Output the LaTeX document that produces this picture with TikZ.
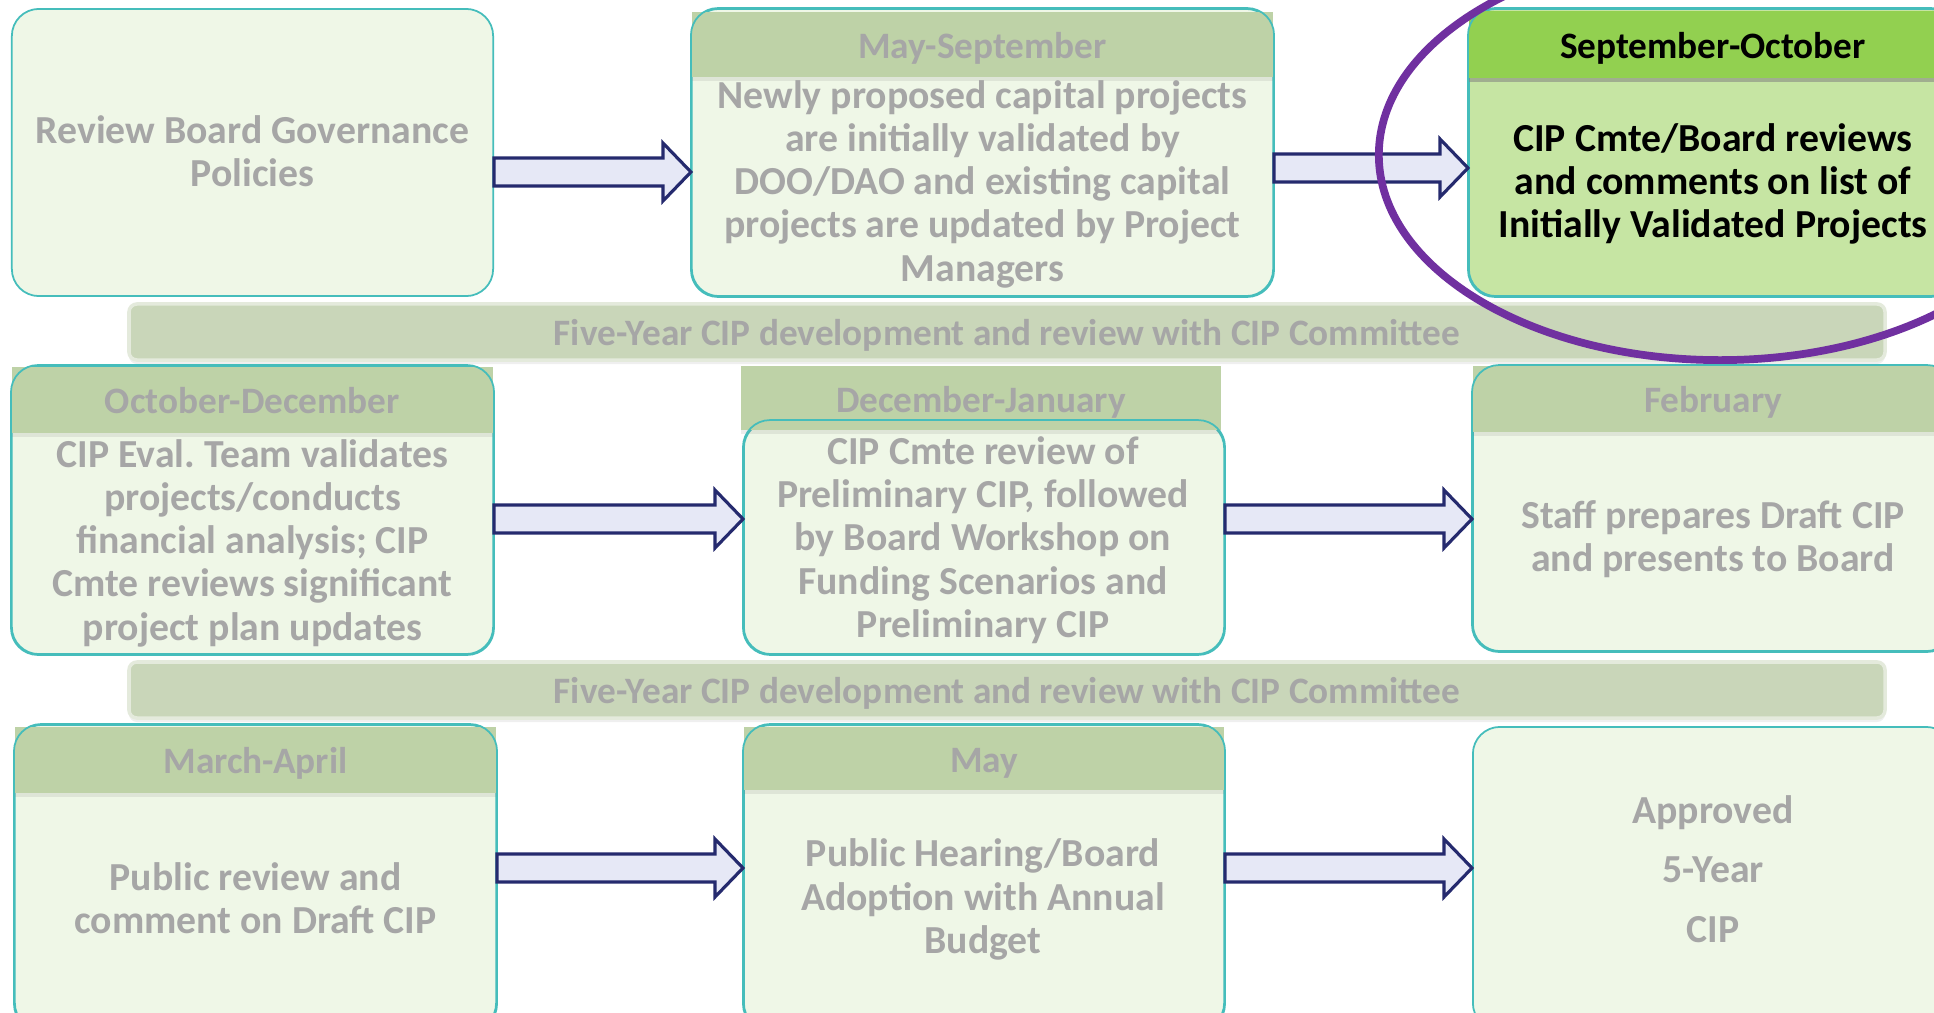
\documentclass[tikz,border=0pt]{standalone}
\usepackage{fontspec}
\setmainfont{Carlito}
\usepackage{tikz}
\usetikzlibrary{positioning,shapes.geometric,shadows,calc}
\frenchspacing
\definecolor{rim}{HTML}{45BDBB}
\definecolor{pale}{HTML}{EFF7E7}
\definecolor{sage}{HTML}{BED2A7}
\definecolor{lime}{HTML}{92D050}
\definecolor{limepale}{HTML}{C6E5A3}
\definecolor{fog}{HTML}{A6A6A6}
\definecolor{navy}{HTML}{252A6E}
\definecolor{lav}{HTML}{E6E8F6}
\definecolor{plum}{HTML}{7030A0}
\definecolor{bandc}{HTML}{C9D6B9}
\tikzset{
    stage/.style={
           rectangle,
           rounded corners=0.27cm,
           draw=rim, line width=0.5pt,
           fill=pale,
           inner sep=0pt,
           },
}
\tikzset{
    head/.style={
           rectangle,
           fill=sage,
           inner sep=0pt,
           text=fog,
           text height=10.4pt, text depth=2.5pt,
           font=\bfseries\fontsize{10.6}{12}\selectfont,
           drop shadow={shadow xshift=0pt, shadow yshift=-0.04cm, opacity=0.15},
           },
}
\tikzset{
    band/.style={
           rectangle,
           rounded corners=0.08cm,
           fill=bandc, draw=bandc!50!white, line width=1pt,
           inner sep=0pt,
           text=fog,
           text height=10.4pt, text depth=2.5pt,
           font=\bfseries\fontsize{10.6}{12}\selectfont,
           drop shadow={shadow xshift=0pt, shadow yshift=-0.04cm, opacity=0.12},
           },
}
\tikzset{
    txt/.style={
           inner sep=0pt,
           align=center,
           text=fog,
           font=\bfseries\fontsize{11.3}{12.3}\selectfont,
           },
}
\tikzset{
    flow/.style={
           draw=navy, fill=lav, line width=0.9pt,
           to path={($(\tikztostart)+(0,-14)$) -- ($(\tikztotarget)+(-28,-14)$) -- ($(\tikztotarget)+(-28,-29)$) -- (\tikztotarget) -- ($(\tikztotarget)+(-28,29)$) -- ($(\tikztotarget)+(-28,14)$) -- ($(\tikztostart)+(0,14)$) -- cycle},
           },
}
\tikzset{
    focus/.style={
           ellipse,
           draw=plum, line width=2.2pt,
           inner sep=0pt,
           },
}
\begin{document}
\begin{tikzpicture}[x=0.01cm,y=-0.01cm]
\useasboundingbox (0,0) rectangle (1934,1012);
\clip (0,0) rectangle (1934,1012);
\fill[white] (0,0) rectangle (1934,1012);
\node[band,minimum width=17.55cm,minimum height=0.56cm](B1) at (1007,332){Five-Year CIP development and review with CIP Committee};
\node[band,minimum width=17.55cm,minimum height=0.56cm](B2) at (1007,690){Five-Year CIP development and review with CIP Committee};
\node[stage,minimum width=4.81cm,minimum height=2.87cm](R1) at (252.5,152.5){};
\node[stage,minimum width=5.81cm,minimum height=2.87cm](R2) at (982.5,152.5){};
\node[stage,fill=limepale,minimum width=4.88cm,minimum height=2.87cm](R3) at (1713,152.5){};
\node[stage,minimum width=4.81cm,minimum height=2.88cm](R4) at (252.5,510){};
\node[stage,minimum width=4.80cm,minimum height=2.33cm](R5) at (984,537.5){};
\node[stage,minimum width=4.80cm,minimum height=2.85cm](R6) at (1713,508.5){};
\node[stage,minimum width=4.81cm,minimum height=3.05cm](R7) at (255.5,877.5){};
\node[stage,minimum width=4.80cm,minimum height=3.05cm](R8) at (984,877.5){};
\node[stage,minimum width=4.80cm,minimum height=3.03cm](R9) at (1713,878.5){};
\node[head,minimum width=5.81cm,minimum height=0.65cm,below = 0.03cm of R2.north](H2){May-September};
\node[head,fill=lime,text=black,drop shadow={shadow xshift=0pt,shadow yshift=-0.04cm,opacity=0.45},minimum width=4.88cm,minimum height=0.67cm,below = 0.02cm of R3.north](H3){September-October};
\node[head,minimum width=4.81cm,minimum height=0.66cm,below = 0.01cm of R4.north](H4){October-December};
\node[head,minimum width=4.80cm,minimum height=0.64cm,xshift=-0.03cm,above = -0.11cm of R5.north](H5){December-January};
\node[head,minimum width=4.80cm,minimum height=0.66cm,below = 0cm of R6.north](H6){February};
\node[head,minimum width=4.81cm,minimum height=0.66cm,below = 0.02cm of R7.north](H7){March-April};
\node[head,minimum width=4.80cm,minimum height=0.63cm,below = 0.02cm of R8.north](H8){May};
\foreach \b in {R2,R3,R4,R5,R6,R7,R8}
  \draw[rim,line width=0.5pt,rounded corners=0.27cm] (\b.south west) rectangle (\b.north east);
\node[txt](T1) at (252.5,151.5){Review Board Governance\\Policies};
\node[txt](T2) at (982.5,184){Newly proposed capital projects\\are initially validated by\\DOO/DAO and existing capital\\projects are updated by Project\\Managers};
\node[txt,text=black](T3) at (1713,184){CIP Cmte/Board reviews\\and comments on list of\\Initially Validated Projects};
\node[txt](T4) at (252.5,543){CIP Eval. Team validates\\projects/conducts\\financial analysis; CIP\\Cmte reviews significant\\project plan updates};
\node[txt](T5) at (983,540){CIP Cmte review of\\Preliminary CIP, followed\\by Board Workshop on\\Funding Scenarios and\\Preliminary CIP};
\node[txt](T6) at (1713,539.5){Staff prepares Draft CIP\\and presents to Board};
\node[txt](T7) at (255.5,898){Public review and\\comment on Draft CIP};
\node[txt](T8) at (983,899.5){Public Hearing/Board\\Adoption with Annual\\Budget};
\node[txt,font=\bfseries\fontsize{11.3}{17}\selectfont](T9) at (1713,869){Approved\\5-Year\\CIP};
\coordinate (a1) at (0,172);
\coordinate (a2) at (0,168);
\coordinate (a3) at (0,519);
\coordinate (a4) at (0,868);
\draw[flow] (R1.east |- a1) to (R2.west |- a1);
\draw[flow] (R2.east |- a2) to (R3.west |- a2);
\draw[flow] (R4.east |- a3) to (R5.west |- a3);
\draw[flow] (R5.east |- a3) to (R6.west |- a3);
\draw[flow] (R7.east |- a4) to (R8.west |- a4);
\draw[flow] (R8.east |- a4) to (R9.west |- a4);
\node[focus,minimum width=6.82cm,minimum height=4.1cm](ring) at (1720,155){};
\end{tikzpicture}
\end{document}
